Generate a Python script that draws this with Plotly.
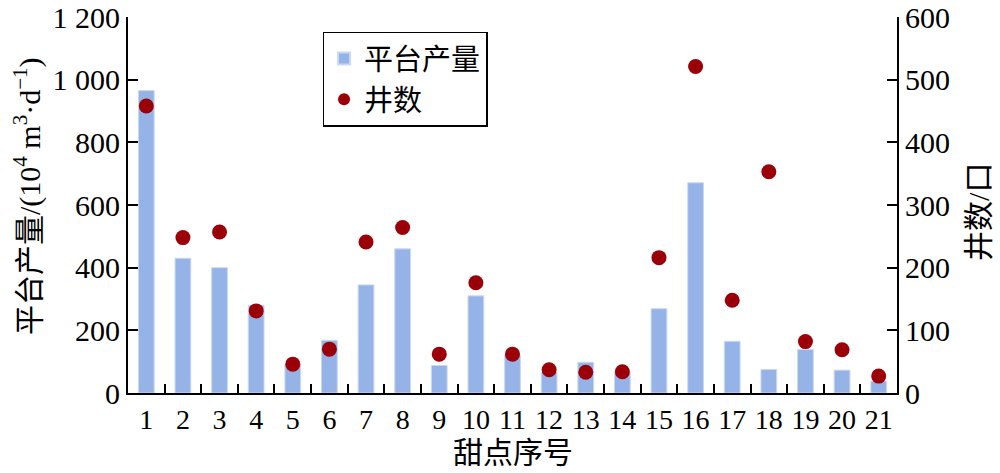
import plotly.graph_objects as go

points = list(range(1, 22))
output = [965, 430, 400, 280, 90, 168, 345, 460, 88, 310, 120, 65, 98, 65, 269, 671, 165, 75, 139, 73, 38]
wells = [458, 248, 257, 131, 46, 70, 241, 264, 62, 176, 62, 37, 33, 34, 216, 521, 148, 353, 82, 69, 27]
left_ticks = [0, 200, 400, 600, 800, 1000, 1200]
left_labels = ["0", "200", "400", "600", "800", "1 000", "1 200"]
right_ticks = [0, 100, 200, 300, 400, 500, 600]

FONT = "Liberation Serif, Noto Sans CJK SC"

fig = go.Figure()
fig.add_trace(go.Bar(
    x=points, y=output, name="平台产量", width=0.43,
    marker=dict(color="#95b3e6", line=dict(color="#c9d9f3", width=1)),
))
fig.add_trace(go.Scatter(
    x=points, y=wells, name="井数", mode="markers", yaxis="y2",
    marker=dict(color="#9b0008", size=15),
))

axis_common = dict(showline=True, linecolor="black", linewidth=2, showgrid=False,
                   zeroline=False, ticks="inside", tickcolor="black", tickwidth=2,
                   automargin=False,
                   tickfont=dict(family=FONT, size=30, color="black"))

fig.update_layout(
    width=1000, height=473,
    margin=dict(l=128, r=103, t=17, b=80),
    paper_bgcolor="white", plot_bgcolor="white",
    font=dict(family=FONT, color="black"),
    showlegend=True,
    legend=dict(x=0.253, y=0.961, xanchor="left", yanchor="top",
                bordercolor="black", borderwidth=1.5, bgcolor="white",
                font=dict(family=FONT, size=29, color="black"),
                itemsizing="constant", tracegroupgap=0),
    xaxis=dict(axis_common, range=[0.5, 21.5], tickvals=points,
               ticktext=[str(p) for p in points], ticklen=0,
               tickfont=dict(family=FONT, size=28, color="black"),
               minor=dict(tick0=0.5, dtick=1, ticks="inside", ticklen=9,
                          tickcolor="black", tickwidth=2)),
    yaxis=dict(axis_common, range=[0, 1200], tickvals=left_ticks, ticktext=left_labels,
               ticklen=10),
    yaxis2=dict(axis_common, range=[0, 600], tickvals=right_ticks, overlaying="y",
                side="right", ticklen=10),
    annotations=[
        dict(text="甜点序号", xref="paper", yref="paper", x=0.5, y=-0.157,
             xanchor="center", yanchor="middle", showarrow=False,
             font=dict(family=FONT, size=30, color="black")),
        dict(text="平台产量/(10<sup>4</sup> m<sup>3</sup>·d<sup>−1</sup>)",
             xref="paper", yref="paper", x=-0.130, y=0.524, textangle=-90,
             xanchor="center", yanchor="middle", showarrow=False,
             font=dict(family=FONT, size=30, color="black")),
        dict(text="井数/口", xref="paper", yref="paper", x=1.105, y=0.481, textangle=-90,
             xanchor="center", yanchor="middle", showarrow=False,
             font=dict(family=FONT, size=30, color="black")),
    ],
)

fig.write_html("out.html", config={"displayModeBar": False},
               post_script="document.body.style.margin='0';document.body.style.overflow='hidden';")
